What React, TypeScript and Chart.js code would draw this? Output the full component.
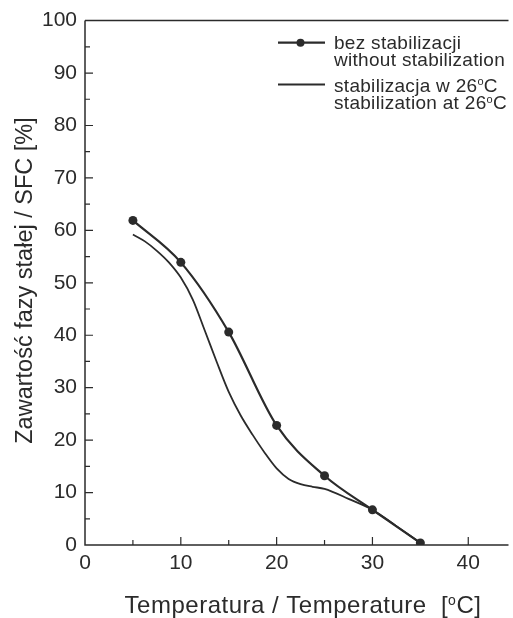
import React, { useEffect, useRef } from "react";
import { Chart, registerables } from "chart.js";

Chart.register(...registerables);

// ---- data ----
const temps = [5, 10, 15, 20, 25, 30, 35];
const sfcWithout = [61.9, 53.9, 40.6, 22.8, 13.2, 6.7, 0.4];

const tempsStab = [5, 6.25, 7.5, 8.75, 10, 11.25, 12.5, 13.75, 15, 16.25, 17.5, 18.75, 20, 21.25, 22.5, 23.75, 25, 27.5, 30, 32.5, 35];
const sfcStab = [59.2, 57.9, 56.1, 53.9, 51.0, 46.8, 40.9, 34.9, 29.2, 24.7, 21.0, 17.6, 14.6, 12.6, 11.6, 11.1, 10.7, 8.8, 6.7, 3.6, 0.4];

const xTicks = [0, 10, 20, 30, 40];
const yTicks = [0, 10, 20, 30, 40, 50, 60, 70, 80, 90, 100];
const xMinorStep = 5;
const yMinorStep = 5;

const legendLines = [
  ["bez stabilizacji", "without stabilization"],
  ["stabilizacja w 26ºC", "stabilization at 26ºC"],
];
const xTitle = "Temperatura / Temperature  [ºC]";
const yTitle = "Zawartość fazy stałej / SFC [%]";

const INK = "#2b2b2b";
const FAMILY = '"Liberation Sans", Arial, Helvetica, sans-serif';

// draws text where "º" is rendered as a small raised "o"
function drawSupText(
  ctx: CanvasRenderingContext2D,
  text: string,
  x: number,
  y: number,
  size: number,
  align: "left" | "center",
  spacing: number
) {
  const parts = text.split("º");
  const supSize = Math.round(size * 0.6);
  const big = `${size}px ${FAMILY}`;
  const small = `${supSize}px ${FAMILY}`;
  (ctx as any).letterSpacing = `${spacing}px`;
  const pieces: { t: string; font: string; dy: number }[] = [];
  parts.forEach((p, i) => {
    if (i > 0) pieces.push({ t: "o", font: small, dy: -size * 0.34 });
    if (p) pieces.push({ t: p, font: big, dy: 0 });
  });
  let total = 0;
  const widths = pieces.map((pc) => {
    ctx.font = pc.font;
    const w = ctx.measureText(pc.t).width;
    total += w;
    return w;
  });
  let cx = align === "center" ? x - total / 2 : x;
  ctx.textAlign = "left";
  ctx.textBaseline = "alphabetic";
  pieces.forEach((pc, i) => {
    ctx.font = pc.font;
    ctx.fillText(pc.t, cx, y + pc.dy);
    cx += widths[i];
  });
  (ctx as any).letterSpacing = "0px";
}

const framePlugin = {
  id: "frame",
  beforeDatasetsDraw(chart: any) {
    const { ctx, chartArea, scales } = chart;
    const { left, right, top, bottom } = chartArea;
    const x = scales.x;
    const y = scales.y;
    ctx.save();
    ctx.strokeStyle = INK;
    ctx.lineWidth = 1.5;
    ctx.beginPath();
    ctx.moveTo(left, top);
    ctx.lineTo(right, top);
    ctx.moveTo(left, top);
    ctx.lineTo(left, bottom);
    ctx.lineTo(right, bottom);
    ctx.stroke();
    ctx.lineWidth = 1.2;
    ctx.beginPath();
    for (let v = xMinorStep; v <= x.max; v += xMinorStep) {
      const px = x.getPixelForValue(v);
      const len = v % 10 === 0 ? 8 : 5;
      ctx.moveTo(px, bottom);
      ctx.lineTo(px, bottom - len);
    }
    for (let v = yMinorStep; v < y.max; v += yMinorStep) {
      const py = y.getPixelForValue(v);
      const len = v % 10 === 0 ? 8 : 5;
      ctx.moveTo(left, py);
      ctx.lineTo(left + len, py);
    }
    ctx.stroke();
    ctx.restore();
  },
  afterDraw(chart: any) {
    const { ctx } = chart;
    ctx.save();
    ctx.fillStyle = INK;
    ctx.strokeStyle = INK;

    // legend
    const lx0 = 278;
    const lx1 = 325;
    const tx = 334;
    const entries = [
      { lineY: 42.7, base: [49, 66], dot: true, width: 2.2 },
      { lineY: 84.5, base: [91.5, 109], dot: false, width: 1.8 },
    ];
    entries.forEach((e, i) => {
      ctx.lineWidth = e.width;
      ctx.beginPath();
      ctx.moveTo(lx0, e.lineY);
      ctx.lineTo(lx1, e.lineY);
      ctx.stroke();
      if (e.dot) {
        ctx.beginPath();
        ctx.arc((lx0 + lx1) / 2 - 1, e.lineY, 4, 0, Math.PI * 2);
        ctx.fill();
      }
      legendLines[i].forEach((t, j) => {
        drawSupText(ctx, t, tx, e.base[j], 19, "left", 0.3);
      });
    });

    // x title
    drawSupText(ctx, xTitle, 303, 613, 24, "center", 0.5);

    // y title
    ctx.save();
    ctx.translate(31.5, 280.5);
    ctx.rotate(-Math.PI / 2);
    drawSupText(ctx, yTitle, 0, 0, 23.5, "center", 0);
    ctx.restore();

    ctx.restore();
  },
};

export default function App() {
  const ref = useRef<HTMLCanvasElement | null>(null);

  useEffect(() => {
    if (!ref.current) return;
    const chart = new Chart(ref.current, {
      type: "line",
      data: {
        datasets: [
          {
            label: "stabilizacja w 26ºC",
            data: tempsStab.map((t, i) => ({ x: t, y: sfcStab[i] })),
            borderColor: INK,
            borderWidth: 1.8,
            pointRadius: 0,
            cubicInterpolationMode: "monotone",
            fill: false,
            order: 2,
          },
          {
            label: "bez stabilizacji",
            data: temps.map((t, i) => ({ x: t, y: sfcWithout[i] })),
            borderColor: INK,
            backgroundColor: INK,
            borderWidth: 2.2,
            pointRadius: 4.5,
            pointBackgroundColor: INK,
            pointBorderWidth: 0,
            cubicInterpolationMode: "monotone",
            fill: false,
            order: 1,
          },
        ],
      },
      options: {
        responsive: false,
        animation: false,
        layout: { padding: { top: 16, left: 0, right: 0, bottom: 0 } },
        plugins: {
          legend: { display: false },
          tooltip: { enabled: false },
        },
        scales: {
          x: {
            type: "linear",
            min: 0,
            max: 44.2,
            afterFit: (s: any) => {
              s.height = 73;
            },
            afterBuildTicks: (s: any) => {
              s.ticks = xTicks.map((v) => ({ value: v }));
            },
            ticks: {
              color: INK,
              font: { size: 21, family: FAMILY },
              padding: 6,
              maxRotation: 0,
              autoSkip: false,
            },
            grid: { display: false, drawTicks: false },
            border: { display: false },
          },
          y: {
            type: "linear",
            min: 0,
            max: 100,
            afterFit: (s: any) => {
              s.width = 85;
            },
            afterBuildTicks: (s: any) => {
              s.ticks = yTicks.map((v) => ({ value: v }));
            },
            ticks: {
              color: INK,
              font: { size: 21, family: FAMILY },
              padding: 8,
              autoSkip: false,
            },
            grid: { display: false, drawTicks: false },
            border: { display: false },
          },
        },
      },
      plugins: [framePlugin],
    } as any);
    return () => chart.destroy();
  }, []);

  return (
    <canvas
      ref={ref}
      width={513}
      height={618}
      style={{ position: "absolute", left: 0, top: 0, width: 513, height: 618, display: "block" }}
    />
  );
}
